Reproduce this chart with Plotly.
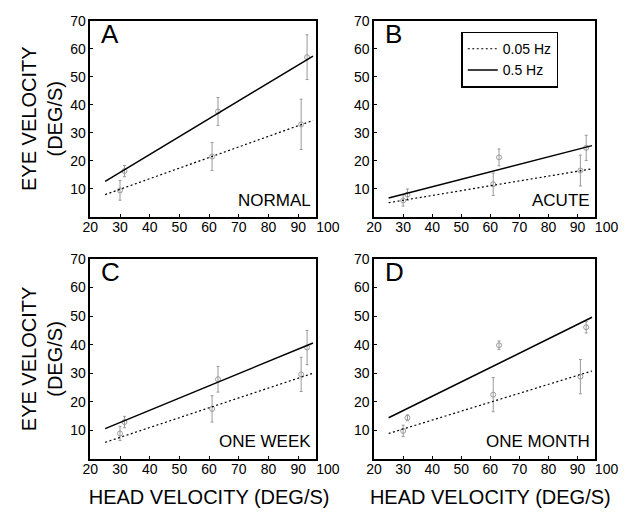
import plotly.graph_objects as go

# ---- data ----
head_low = [30, 61, 91]          # 0.05 Hz test velocities
head_high = [31.5, 63, 93]       # 0.5 Hz test velocities
fit_x = [25, 95]

A_low_mean = [9.4, 21.5, 33.0]
A_low_err = [3.5, 5.0, 9.0]
A_high_mean = [16.3, 37.6, 57.0]
A_high_err = [2.0, 5.0, 8.0]
A_fit_low = [7.9, 34.4]
A_fit_high = [12.6, 57.4]

B_low_mean = [5.8, 11.6, 16.5]
B_low_err = [2.0, 4.0, 5.5]
B_high_mean = [7.9, 21.2, 24.6]
B_high_err = [2.0, 3.0, 4.5]
B_fit_low = [5.0, 17.1]
B_fit_high = [6.7, 25.4]

C_low_mean = [8.9, 17.5, 29.6]
C_low_err = [2.5, 4.6, 6.0]
C_high_mean = [12.9, 27.9, 39.0]
C_high_err = [2.0, 4.5, 6.0]
C_fit_low = [5.8, 30.0]
C_fit_high = [10.6, 40.6]

D_low_mean = [9.8, 22.5, 28.8]
D_low_err = [2.0, 6.0, 6.0]
D_high_mean = [14.4, 39.8, 46.1]
D_high_err = [1.0, 1.5, 2.0]
D_fit_low = [8.9, 30.8]
D_fit_high = [14.4, 49.6]

panel_letters = ["A", "B", "C", "D"]
panel_names = ["NORMAL", "ACUTE", "ONE WEEK", "ONE MONTH"]
x_ticks = [20, 30, 40, 50, 60, 70, 80, 90, 100]
y_ticks = [10, 20, 30, 40, 50, 60, 70]
legend_names = ["0.05 Hz", "0.5 Hz"]

# ---- layout geometry ----
W, H = 635, 515
FONT = "Liberation Sans, Arial, Helvetica, sans-serif"
x_data_max = 96
cols = [(85, 318), (378, 606)]
rows = [(13, 212), (255, 458)]

def xdom(c):
    return [c[0] / W, c[1] / W]

def xdom_label(c):
    span = (c[1] - c[0]) * (100 - 20) / (x_data_max - 20)
    return [c[0] / W, min(1.0, (c[0] + span) / W)]

def ydom(r):
    return [1 - r[1] / H, 1 - r[0] / H]

panels = [
    (A_low_mean, A_low_err, A_high_mean, A_high_err, A_fit_low, A_fit_high),
    (B_low_mean, B_low_err, B_high_mean, B_high_err, B_fit_low, B_fit_high),
    (C_low_mean, C_low_err, C_high_mean, C_high_err, C_fit_low, C_fit_high),
    (D_low_mean, D_low_err, D_high_mean, D_high_err, D_fit_low, D_fit_high),
]

fig = go.Figure()
err_col = "#9a9a9a"
layout = {}
annotations = []

for i, (lm, le, hm, he, fl, fh) in enumerate(panels):
    n = i + 1
    xa = "x" if n == 1 else f"x{n}"
    ya = "y" if n == 1 else f"y{n}"
    xl = f"x{n + 4}"
    show = (n == 2)
    fig.add_trace(go.Scatter(
        x=head_low, y=lm, mode="markers", xaxis=xa, yaxis=ya, showlegend=False,
        marker=dict(symbol="circle-open", size=5, color=err_col, line=dict(width=1)),
        error_y=dict(type="data", array=le, color=err_col, thickness=1, width=1.5)))
    fig.add_trace(go.Scatter(
        x=head_high, y=hm, mode="markers", xaxis=xa, yaxis=ya, showlegend=False,
        marker=dict(symbol="circle-open", size=5, color=err_col, line=dict(width=1)),
        error_y=dict(type="data", array=he, color=err_col, thickness=1, width=1.5)))
    fig.add_trace(go.Scatter(
        x=fit_x, y=fl, mode="lines", xaxis=xa, yaxis=ya, name=legend_names[0],
        showlegend=show, line=dict(color="black", width=1.2, dash="2px,2.5px")))
    fig.add_trace(go.Scatter(
        x=fit_x, y=fh, mode="lines", xaxis=xa, yaxis=ya, name=legend_names[1],
        showlegend=show, line=dict(color="black", width=1.5)))
    # empty trace so the tick-label axis gets drawn
    fig.add_trace(go.Scatter(x=[], y=[], xaxis=xl, yaxis=ya, mode="markers",
                             showlegend=False, hoverinfo="skip"))

    c = cols[i % 2]
    r = rows[i // 2]
    key_x = "xaxis" if n == 1 else f"xaxis{n}"
    key_y = "yaxis" if n == 1 else f"yaxis{n}"
    layout[key_x] = dict(
        domain=xdom(c), anchor=ya, range=[20, x_data_max], showgrid=False, zeroline=False,
        showline=True, mirror=True, linecolor="black", linewidth=1.5,
        ticks="inside", ticklen=3, tickcolor="black", tickvals=x_ticks,
        showticklabels=False)
    layout[key_y] = dict(
        domain=ydom(r), anchor=xa, range=[0, 70], showgrid=False, zeroline=False,
        showline=True, mirror=True, linecolor="black", linewidth=1.5,
        ticks="inside", ticklen=3, tickcolor="black", tickvals=y_ticks,
        tickfont=dict(family=FONT, size=14, color="black"))
    if i % 2 == 0:
        layout[key_y]["title"] = dict(text="EYE VELOCITY<br>(DEG/S)",
                                      font=dict(family=FONT, size=20, color="black"),
                                      standoff=2)
    # tick-label axis spanning 20..100
    lab_key = f"xaxis{n + 4}"
    layout[lab_key] = dict(
        domain=xdom_label(c), anchor=ya, range=[20, 100], showgrid=False,
        zeroline=False, showline=False, ticks="", tickvals=x_ticks,
        tickfont=dict(family=FONT, size=14, color="black"))
    if i >= 2:
        layout[lab_key]["title"] = dict(text="HEAD VELOCITY (DEG/S)",
                                        font=dict(family=FONT, size=20, color="black"),
                                        standoff=14)
    annotations.append(dict(
        text=panel_letters[i], xref=f"{xa} domain", yref=f"{ya} domain",
        x=0.04, y=0.935, xanchor="left", yanchor="middle", showarrow=False,
        font=dict(family=FONT, size=26, color="black")))
    annotations.append(dict(
        text=panel_names[i], xref=f"{xa} domain", yref=f"{ya} domain",
        x=0.985, y=0.085, xanchor="right", yanchor="middle", showarrow=False,
        font=dict(family=FONT, size=17, color="black")))

fig.update_layout(
    width=W, height=H, margin=dict(l=0, r=0, t=0, b=0),
    paper_bgcolor="white", plot_bgcolor="rgba(0,0,0,0)",
    font=dict(family=FONT, color="black"),
    annotations=annotations,
    legend=dict(x=468 / W, y=1 - 24 / H, xanchor="left", yanchor="top",
                bgcolor="white", bordercolor="black", borderwidth=1.5,
                font=dict(family=FONT, size=14, color="black"),
                itemwidth=30, tracegroupgap=0),
    **layout)

fig.write_html("out.html")
